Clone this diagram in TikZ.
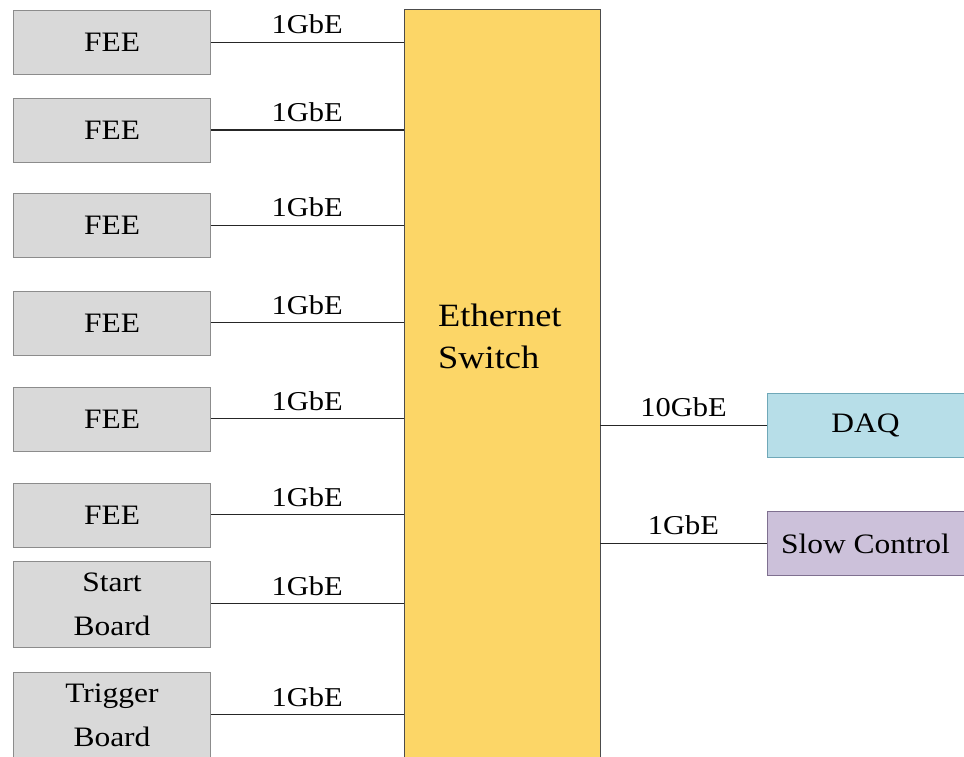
\documentclass[tikz,border=0pt]{standalone}
\usepackage{fontspec}
\setmainfont[FakeStretch=1.12]{Liberation Serif}
\usetikzlibrary{positioning}
\definecolor{boxgray}{HTML}{D9D9D9}
\definecolor{boxedge}{HTML}{8C8C8C}
\definecolor{swyellow}{HTML}{FCD667}
\definecolor{daqblue}{HTML}{B7DEE8}
\definecolor{daqedge}{HTML}{6FA8B8}
\definecolor{scpurple}{HTML}{CCC1DA}
\definecolor{scedge}{HTML}{7F7090}

\begin{document}
\begin{tikzpicture}[x=0.02cm,y=-0.02cm,node distance=1.9cm,on grid,auto]

    \tikzset{board/.style={draw=boxedge,fill=boxgray,rectangle,minimum width=3.94cm,minimum height=1.28cm,align=center,font=\fontsize{16}{25}\selectfont}}
    \tikzset{tall/.style={minimum height=1.72cm}}
    \tikzset{link/.style={draw=black!85,line width=0.6pt}}
    \tikzset{rate/.style={font=\fontsize{15.5}{18}\selectfont,inner sep=2pt,yshift=2.5pt}}
    \clip (0,0) rectangle (964,757);

    \node[board] (fee1) at (112,42.5) {FEE};
    \node[board] (fee2) [below = 1.75cm of fee1] {FEE};
    \node[board] (fee3) [below = 1.91cm of fee2] {FEE};
    \node[board] (fee4) [below = 1.95cm of fee3] {FEE};
    \node[board] (fee5) [below = 1.92cm of fee4] {FEE};
    \node[board] (fee6) [below = 1.92cm of fee5] {FEE};
    \node[board,tall] (start) [below = 1.78cm of fee6] {Start\\Board};
    \node[board,tall] (trig) [below = 2.22cm of start] {Trigger\\Board};

    \node[draw=black!70,fill=swyellow,rectangle,minimum width=3.92cm,minimum height=16cm,anchor=north] (sw) at (502,9) {};
    \node[anchor=west,align=left,font=\fontsize{18.5}{24}\selectfont] (swlabel) at (432,336) {Ethernet\\Switch};

    \node[board,draw=daqedge,fill=daqblue] (daq) at (865.5,425.5) {DAQ};
    \node[board,draw=scedge,fill=scpurple] (slow) at (865.5,543.5) {Slow Control};

    \path[link]
    (fee1) edge node[rate] {1GbE} (fee1 -| sw.west)
    (fee2) edge node[rate] {1GbE} (fee2 -| sw.west)
    (fee3) edge node[rate] {1GbE} (fee3 -| sw.west)
    (fee4) edge node[rate] {1GbE} (fee4 -| sw.west)
    (fee5) edge node[rate] {1GbE} (fee5 -| sw.west)
    (fee6) edge node[rate] {1GbE} (fee6 -| sw.west)
    (start) edge node[rate] {1GbE} (start -| sw.west)
    (trig) edge node[rate] {1GbE} (trig -| sw.west)
    (daq -| sw.east) edge node[rate] {10GbE} (daq)
    (slow -| sw.east) edge node[rate] {1GbE} (slow)
    ;
  \end{tikzpicture}
\end{document}
